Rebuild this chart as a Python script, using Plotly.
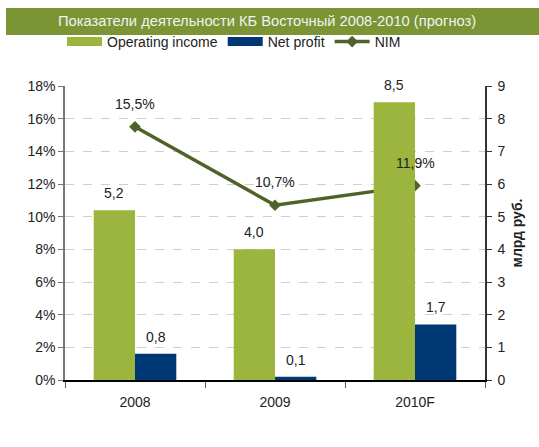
import plotly.graph_objects as go

categories = ["2008", "2009", "2010F"]
operating_income = [5.2, 4.0, 8.5]
net_profit = [0.8, 0.1, 1.7]
nim = [15.5, 10.7, 11.9]
nim_labels = ["15,5%", "10,7%", "11,9%"]

title_text = "Показатели деятельности КБ Восточный 2008-2010 (прогноз)"
FONT = "Arial, Liberation Sans, sans-serif"
GREEN = "#9BB53F"
NAVY = "#003876"
OLIVE = "#4F6228"

fig = go.Figure()
fig.add_trace(go.Bar(
    x=categories, y=operating_income, name="Operating income",
    marker=dict(color=GREEN, line=dict(width=0)), yaxis="y2", showlegend=False,
))
fig.add_trace(go.Bar(
    x=categories, y=net_profit, name="Net profit",
    marker=dict(color=NAVY, line=dict(width=0)), yaxis="y2", showlegend=False,
))
fig.add_trace(go.Scatter(
    x=categories, y=nim, name="NIM", mode="lines+markers",
    line=dict(color=OLIVE, width=3.5),
    marker=dict(symbol="diamond", size=9, color=OLIVE),
    yaxis="y", showlegend=False,
))

# legend-only entries (wide swatches like the original)
fig.add_trace(go.Scatter(x=[None], y=[None], mode="lines", name="Operating income",
                         line=dict(color=GREEN, width=9)))
fig.add_trace(go.Scatter(x=[None], y=[None], mode="lines", name="Net profit",
                         line=dict(color=NAVY, width=9)))
fig.add_trace(go.Scatter(x=[None], y=[None], mode="lines+markers", name="NIM",
                         line=dict(color=OLIVE, width=3.5),
                         marker=dict(symbol="diamond", size=9, color=OLIVE)))

def fmt(v):
    return f"{v:.1f}".replace(".", ",")

# category axes take serial numbers for annotation positions
for i, (v, t) in enumerate(zip(nim, nim_labels)):
    fig.add_annotation(x=i, y=v, text=t, showarrow=False, yshift=23,
                       xref="x", yref="y", font=dict(size=14, color="#222"))
for i, v in enumerate(operating_income):
    fig.add_annotation(x=i, y=v, text=fmt(v), showarrow=False, yshift=17,
                       xshift=-20.6, xref="x", yref="y2",
                       font=dict(size=14, color="#222"))
for i, v in enumerate(net_profit):
    fig.add_annotation(x=i, y=v, text=fmt(v), showarrow=False, yshift=17,
                       xshift=20.6, xref="x", yref="y2",
                       font=dict(size=14, color="#222"))

# title bar
fig.add_shape(type="rect", xref="paper", yref="paper",
              x0=(6 - 65) / 420, x1=(539 - 65) / 420,
              y0=(380 - 35) / 294, y1=(380 - 8) / 294,
              fillcolor="#7B9535", line=dict(width=0), layer="below")
fig.add_annotation(xref="paper", yref="paper", x=(267 - 65) / 420,
                   y=(380 - 21.5) / 294, text=title_text, showarrow=False,
                   font=dict(size=14.7, color="#F2F2F2", family=FONT),
                   xanchor="center", yanchor="middle")

fig.update_layout(
    width=539, height=447,
    margin=dict(l=65, r=54, t=86, b=67),
    paper_bgcolor="white", plot_bgcolor="white",
    font=dict(family=FONT, size=14, color="#222"),
    barmode="group", bargap=0.41, bargroupgap=0,
    showlegend=True,
    legend=dict(orientation="h", x=(62 - 65) / 420, y=(380 - 42) / 294,
                xanchor="left", yanchor="middle", font=dict(size=14),
                bgcolor="rgba(0,0,0,0)", traceorder="normal",
                itemwidth=35, tracegroupgap=0),
    xaxis=dict(type="category", range=[-0.5, 2.5], showline=True,
               linecolor="#000", linewidth=1.5,
               ticks="outside", ticklen=6, tickcolor="#555", tickson="boundaries",
               ticklabelstandoff=8,
               showgrid=False, tickfont=dict(size=14)),
    yaxis=dict(range=[0, 18], dtick=2, ticksuffix="%", showline=True,
               linecolor="#777", linewidth=1.5, ticks="outside", ticklen=5,
               tickcolor="#777", showgrid=True, gridcolor="#CFCFCF",
               griddash="dash", gridwidth=1, zeroline=False,
               tickfont=dict(size=14)),
    yaxis2=dict(range=[0, 9], dtick=1, overlaying="y", side="right",
                showline=True, linecolor="#333", linewidth=1.5, ticks="outside",
                ticklen=5, tickcolor="#333", showgrid=False, zeroline=False,
                tickfont=dict(size=14), ticklabelstandoff=3,
                title=dict(text="<b>млрд руб.</b>", font=dict(size=14), standoff=8)),
)

fig.write_html("out.html", config={"displayModeBar": False},
               post_script="document.body.style.margin='0';document.body.style.padding='0';")
